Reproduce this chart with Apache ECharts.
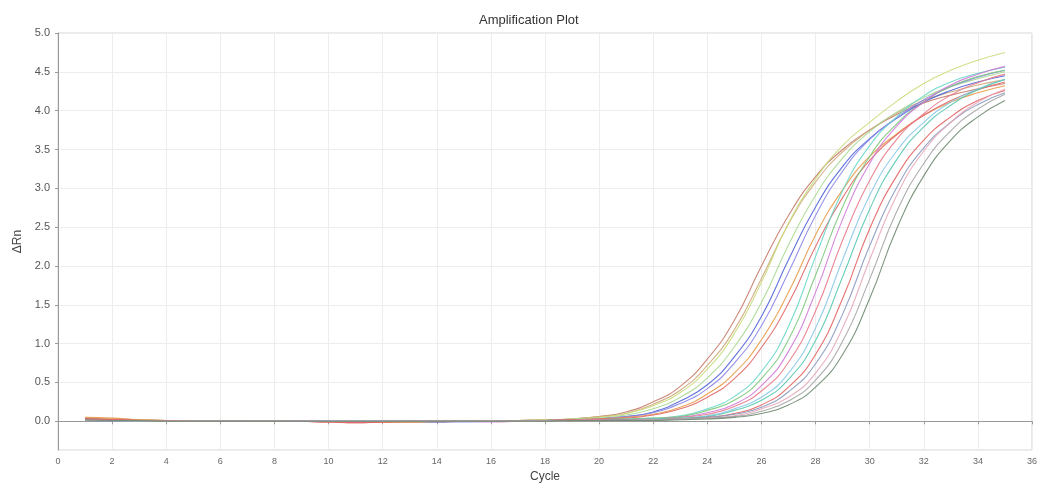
<!DOCTYPE html>
<html>
<head>
    <meta charset="utf-8">
    <title>Amplification Plot</title>
    <script src="https://cdn.jsdelivr.net/npm/echarts@6/dist/echarts.min.js"></script>
    <style>
        html, body {
            margin: 0;
            padding: 0;
            background: #fff;
        }

        #main {
            width: 1040px;
            height: 488px;
        }
    </style>
</head>
<body>
<div id="main"></div>
<script>
    // cycle numbers 1..35
    var cycles = [1, 2, 3, 4, 5, 6, 7, 8, 9, 10, 11, 12, 13, 14, 15, 16, 17, 18,
        19, 20, 21, 22, 23, 24, 25, 26, 27, 28, 29, 30, 31, 32, 33, 34, 35];

    var xTicks = [0, 2, 4, 6, 8, 10, 12, 14, 16, 18, 20, 22, 24, 26, 28, 30, 32, 34, 36];
    var yTicks = ['0.0', '0.5', '1.0', '1.5', '2.0', '2.5', '3.0', '3.5', '4.0', '4.5', '5.0'];

    // delta Rn per well
    var wellNames = ['A1', 'A2', 'A3', 'A4', 'A5', 'A6', 'A7', 'A8', 'A9', 'A10',
        'A11', 'A12', 'B1', 'B2', 'B3', 'B4', 'B5', 'B6', 'B7'];

    var wellColors = ['#c77a6a', '#cda97c', '#c9dd7a', '#a9d991', '#4f63d8', '#8a86e8',
        '#e99a48', '#e06868', '#68d8c8', '#7cc87c', '#d27ad8', '#e87a8a',
        '#88c8e8', '#58c8b0', '#e26262', '#8898c0', '#e8a8b8', '#a4a4a4', '#6f8a70'];

    var w1 = [0.04, 0.03, 0.02, 0.01, 0.01, 0.00, 0.00, 0.01, 0.00, -0.01, -0.01, -0.01, 0.00, -0.01, 0.00, 0.00, 0.01, 0.02,
        0.03, 0.06, 0.12, 0.25, 0.45, 0.80, 1.30, 2.00, 2.65, 3.15, 3.50, 3.75, 3.95, 4.10, 4.20, 4.28, 4.35];
    var w2 = [0.03, 0.03, 0.02, 0.01, 0.00, 0.00, 0.00, 0.00, 0.00, 0.00, -0.01, -0.01, -0.01, 0.00, 0.00, 0.00, 0.01, 0.02,
        0.03, 0.06, 0.10, 0.22, 0.40, 0.72, 1.18, 1.84, 2.54, 3.08, 3.47, 3.75, 3.97, 4.13, 4.24, 4.33, 4.40];
    var w3 = [0.02, 0.02, 0.01, 0.01, 0.00, 0.00, 0.00, 0.01, 0.01, 0.00, 0.00, -0.01, 0.00, 0.00, 0.00, 0.01, 0.01, 0.02,
        0.03, 0.05, 0.10, 0.20, 0.37, 0.67, 1.13, 1.79, 2.55, 3.12, 3.55, 3.85, 4.12, 4.35, 4.52, 4.65, 4.75];
    var w4 = [0.02, 0.01, 0.01, 0.00, 0.00, 0.00, 0.01, 0.01, 0.00, 0.00, 0.00, 0.00, -0.01, 0.00, 0.00, 0.00, 0.01, 0.01,
        0.03, 0.04, 0.08, 0.16, 0.31, 0.56, 0.96, 1.53, 2.27, 2.91, 3.39, 3.73, 3.98, 4.17, 4.31, 4.41, 4.50];
    var w5 = [0.03, 0.02, 0.01, 0.01, 0.00, 0.00, 0.00, 0.00, 0.00, 0.00, -0.01, 0.00, 0.00, -0.01, 0.00, 0.00, 0.01, 0.01,
        0.02, 0.03, 0.06, 0.12, 0.26, 0.47, 0.83, 1.35, 2.08, 2.76, 3.28, 3.64, 3.90, 4.11, 4.26, 4.37, 4.45];
    var w6 = [0.01, 0.01, 0.01, 0.00, 0.00, 0.00, 0.00, 0.00, 0.00, 0.00, 0.00, 0.00, 0.00, 0.00, -0.01, 0.00, 0.00, 0.01,
        0.02, 0.03, 0.06, 0.11, 0.23, 0.42, 0.75, 1.23, 1.92, 2.65, 3.22, 3.63, 3.91, 4.14, 4.31, 4.43, 4.52];
    var w7 = [0.05, 0.04, 0.02, 0.01, 0.01, 0.00, 0.00, 0.00, 0.00, 0.00, 0.00, -0.01, -0.01, 0.00, 0.00, 0.00, 0.01, 0.01,
        0.02, 0.03, 0.05, 0.09, 0.18, 0.35, 0.62, 1.05, 1.66, 2.40, 2.98, 3.41, 3.70, 3.94, 4.11, 4.23, 4.32];
    var w8 = [0.03, 0.02, 0.01, 0.00, 0.00, 0.00, 0.00, 0.00, 0.01, 0.00, -0.02, -0.01, -0.01, 0.00, 0.00, 0.00, 0.00, 0.01,
        0.02, 0.03, 0.04, 0.08, 0.16, 0.31, 0.55, 0.95, 1.52, 2.25, 2.88, 3.36, 3.69, 3.94, 4.13, 4.27, 4.37];
    var w9 = [0.02, 0.01, 0.01, 0.00, 0.00, 0.00, 0.00, 0.00, 0.00, 0.00, 0.00, 0.00, 0.00, 0.00, 0.00, 0.00, 0.00, 0.01,
        0.01, 0.02, 0.03, 0.04, 0.07, 0.16, 0.32, 0.64, 1.22, 2.12, 2.97, 3.55, 3.92, 4.19, 4.37, 4.48, 4.56];
    var w10 = [0.01, 0.01, 0.00, 0.00, 0.00, 0.00, 0.00, 0.01, 0.00, 0.00, 0.00, 0.00, 0.00, 0.00, 0.00, 0.00, 0.00, 0.01,
        0.01, 0.02, 0.03, 0.04, 0.06, 0.14, 0.27, 0.55, 1.05, 1.88, 2.76, 3.41, 3.83, 4.11, 4.31, 4.44, 4.52];
    var w11 = [0.02, 0.01, 0.01, 0.00, 0.00, 0.00, 0.00, 0.00, 0.01, 0.00, 0.00, 0.00, 0.00, 0.00, 0.00, -0.01, 0.00, 0.01,
        0.01, 0.02, 0.02, 0.03, 0.05, 0.11, 0.22, 0.46, 0.90, 1.66, 2.60, 3.32, 3.80, 4.11, 4.33, 4.47, 4.57];
    var w12 = [0.02, 0.02, 0.01, 0.01, 0.00, 0.00, 0.00, 0.00, 0.00, -0.01, -0.01, 0.00, 0.00, 0.00, 0.00, 0.00, 0.00, 0.00,
        0.01, 0.02, 0.02, 0.03, 0.05, 0.09, 0.19, 0.39, 0.76, 1.42, 2.33, 3.10, 3.63, 3.96, 4.20, 4.36, 4.47];
    var w13 = [0.01, 0.01, 0.00, 0.00, 0.00, 0.00, 0.00, 0.00, 0.00, 0.00, 0.00, 0.00, 0.00, 0.00, 0.00, 0.00, 0.00, 0.00,
        0.01, 0.01, 0.02, 0.03, 0.04, 0.07, 0.16, 0.31, 0.62, 1.20, 2.08, 2.91, 3.48, 3.85, 4.11, 4.28, 4.40];
    var w14 = [0.01, 0.01, 0.01, 0.00, 0.00, 0.00, 0.00, 0.00, 0.00, 0.00, 0.00, 0.00, 0.00, 0.00, 0.00, 0.00, 0.00, 0.00,
        0.01, 0.01, 0.02, 0.03, 0.04, 0.06, 0.14, 0.27, 0.54, 1.04, 1.86, 2.73, 3.37, 3.79, 4.07, 4.27, 4.40];
    var w15 = [0.03, 0.02, 0.01, 0.01, 0.00, 0.00, 0.00, 0.00, 0.00, -0.01, -0.02, -0.01, 0.00, 0.00, 0.00, 0.00, 0.00, 0.00,
        0.01, 0.01, 0.02, 0.02, 0.03, 0.05, 0.10, 0.21, 0.44, 0.86, 1.58, 2.48, 3.16, 3.62, 3.92, 4.13, 4.26];
    var w16 = [0.01, 0.00, 0.00, 0.00, 0.00, 0.00, 0.00, 0.00, 0.00, 0.00, 0.00, 0.00, 0.00, 0.00, 0.00, 0.00, 0.00, 0.00,
        0.01, 0.01, 0.02, 0.02, 0.03, 0.05, 0.09, 0.18, 0.38, 0.74, 1.38, 2.26, 3.01, 3.52, 3.85, 4.08, 4.23];
    var w17 = [0.02, 0.01, 0.01, 0.00, 0.00, 0.00, 0.00, 0.00, 0.00, 0.00, 0.00, 0.00, 0.00, 0.00, 0.00, 0.00, 0.00, 0.00,
        0.01, 0.01, 0.01, 0.02, 0.03, 0.04, 0.07, 0.16, 0.31, 0.62, 1.20, 2.08, 2.91, 3.48, 3.85, 4.11, 4.28];
    var w18 = [0.01, 0.01, 0.00, 0.00, 0.00, 0.00, 0.00, 0.00, 0.00, 0.00, 0.00, 0.00, 0.00, 0.00, 0.00, 0.00, 0.00, 0.00,
        0.01, 0.01, 0.01, 0.02, 0.03, 0.04, 0.06, 0.13, 0.26, 0.53, 1.03, 1.83, 2.70, 3.32, 3.74, 4.02, 4.21];
    var w19 = [0.02, 0.01, 0.01, 0.00, 0.00, 0.00, 0.00, 0.00, 0.00, 0.00, 0.00, 0.00, 0.00, 0.00, 0.00, 0.00, 0.00, 0.00,
        0.01, 0.01, 0.01, 0.01, 0.02, 0.03, 0.05, 0.10, 0.21, 0.44, 0.86, 1.58, 2.48, 3.16, 3.62, 3.92, 4.13];

    var wells = [w1, w2, w3, w4, w5, w6, w7, w8, w9, w10, w11, w12, w13, w14, w15, w16, w17, w18, w19];

    var myChart = echarts.init(document.getElementById('main'), null, {renderer: 'canvas'});

    var series = [];
    for (var i = 0; i < wells.length; i++) {
        var pts = [];
        for (var j = 0; j < cycles.length; j++) {
            pts.push([cycles[j], wells[i][j]]);
        }
        series.push({
            name: wellNames[i],
            type: 'line',
            smooth: true,
            showSymbol: false,
            data: pts,
            lineStyle: {width: 1.1, color: wellColors[i], opacity: 0.9},
            itemStyle: {color: wellColors[i]}
        });
    }

    var option = {
        animation: false,
        backgroundColor: '#fff',
        title: {
            text: 'Amplification Plot',
            left: 474,
            top: 9,
            textStyle: {fontSize: 13, fontWeight: 'normal', color: '#333', fontFamily: 'Liberation Sans'}
        },
        grid: {
            left: 58,
            right: 8,
            top: 33,
            bottom: 36,
            show: true,
            borderColor: '#d4d4d4',
            borderWidth: 1
        },
        xAxis: {
            type: 'value',
            min: xTicks[0],
            max: xTicks[xTicks.length - 1],
            interval: 2,
            name: 'Cycle',
            nameLocation: 'middle',
            nameGap: 21,
            nameTextStyle: {fontSize: 12, color: '#444', fontFamily: 'Liberation Sans'},
            axisLine: {lineStyle: {color: '#999'}},
            axisTick: {length: 3, lineStyle: {color: '#999'}},
            axisLabel: {fontSize: 9, color: '#666', margin: 7, fontFamily: 'Liberation Sans'},
            splitLine: {show: true, lineStyle: {color: '#ededed', width: 1}}
        },
        yAxis: {
            type: 'value',
            min: -0.37,
            max: 5.0,
            splitNumber: 10,
            name: 'ΔRn',
            nameLocation: 'middle',
            nameGap: 34,
            nameTextStyle: {fontSize: 12, color: '#444', fontFamily: 'Liberation Sans'},
            axisLine: {show: true, lineStyle: {color: '#999'}},
            axisTick: {show: true, length: 3, lineStyle: {color: '#999'}},
            axisLabel: {
                fontSize: 11,
                color: '#555',
                margin: 8,
                showMinLabel: false,
                fontFamily: 'Liberation Sans',
                formatter: function (v) {
                    var s = v.toFixed(1);
                    return yTicks.indexOf(s) >= 0 && Math.abs(v * 2 - Math.round(v * 2)) < 1e-6 ? s : '';
                }
            },
            splitLine: {show: true, lineStyle: {color: '#ededed', width: 1}}
        },
        series: series
    };
    myChart.setOption(option);
</script>
</body>
</html>
